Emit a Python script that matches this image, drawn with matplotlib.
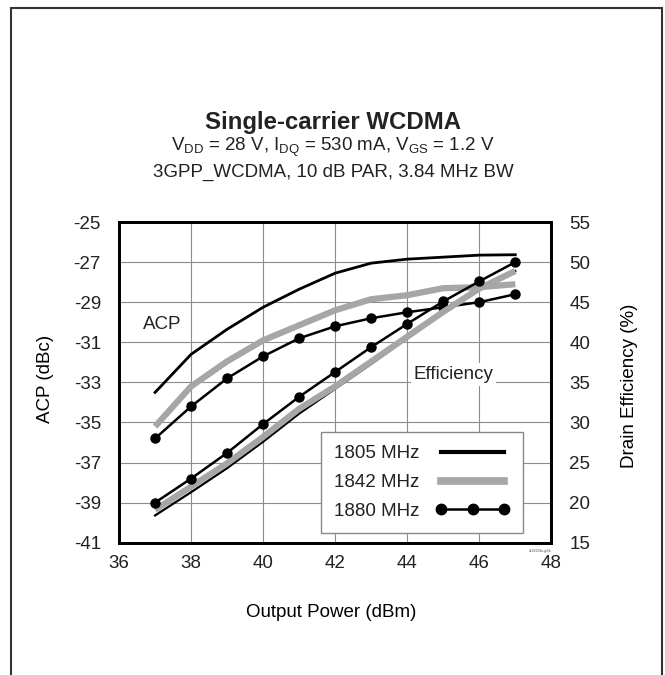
import numpy as np
import matplotlib
matplotlib.use("Agg")
import matplotlib.pyplot as plt
from matplotlib.patches import Rectangle

plt.rcParams['font.family'] = ['Liberation Sans', 'DejaVu Sans']
plt.rcParams['mathtext.default'] = 'regular'
plt.rcParams['axes.unicode_minus'] = False
plt.rcParams['text.color'] = '#222222'

# output power (dBm)
pout = [37, 38, 39, 40, 41, 42, 43, 44, 45, 46, 47]

# ACP (dBc)
acp_1805 = [-33.5, -31.6, -30.35, -29.25, -28.35, -27.55, -27.05, -26.85, -26.75, -26.65, -26.63]
acp_1842 = [-35.2, -33.2, -31.95, -30.9, -30.15, -29.4, -28.85, -28.65, -28.3, -28.25, -28.1]
acp_1880 = [-35.8, -34.2, -32.8, -31.7, -30.8, -30.2, -29.8, -29.5, -29.25, -29.0, -28.6]

# drain efficiency (%)
eff_1805 = [18.4, 21.3, 24.3, 27.6, 31.1, 34.2, 37.3, 40.5, 43.6, 46.6, 48.9]
eff_1842 = [19.1, 22.0, 24.9, 28.2, 31.7, 34.5, 37.6, 40.7, 43.8, 46.7, 48.9]
eff_1880 = [20.0, 23.0, 26.2, 29.8, 33.2, 36.3, 39.4, 42.3, 45.1, 47.6, 50.0]

fs = 13.5

fig = plt.figure(figsize=(6.65, 6.75), dpi=100)
ax = fig.add_axes([0.179, 0.196, 0.650, 0.475])
ax2 = ax.twinx()

# outer frame (open at bottom)
fig.patches.append(Rectangle((11 / 665, -0.05), 651 / 665, 1.05 - 7.5 / 675,
                             transform=fig.transFigure, fill=False,
                             edgecolor='#333333', lw=1.5))

gray = '#a6a6a6'
ax.plot(pout, acp_1842, color=gray, lw=4.5, solid_capstyle='butt', zorder=2)
ax.plot(pout, acp_1805, color='black', lw=2.0, zorder=3)
ax2.plot(pout, eff_1805, color='black', lw=1.6, zorder=2)
ax2.plot(pout, eff_1842, color=gray, lw=4.5, solid_capstyle='butt', zorder=3)
ax.plot(pout, acp_1880, color='black', lw=1.8, marker='o', ms=6.5, zorder=4)
ax2.plot(pout, eff_1880, color='black', lw=1.8, marker='o', ms=6.5, zorder=4)

ax.set_xlim(36, 48)
ax.set_ylim(-41, -25)
ax2.set_ylim(15, 55)
ax.set_xticks(np.arange(36, 49, 2))
ax.set_yticks(np.arange(-41, -24, 2))
ax2.set_yticks(np.arange(15, 56, 5))
ax.grid(True, color='#8c8c8c', lw=0.8)
ax.set_axisbelow(True)

for a in (ax, ax2):
    a.tick_params(length=0, labelsize=fs, colors='#222222')
    for s in a.spines.values():
        s.set_linewidth(2.0)
        s.set_color('black')
ax.tick_params(axis='y', pad=13)
ax.tick_params(axis='x', pad=9)
ax2.tick_params(axis='y', pad=13)

ax.set_xlabel('Output Power (dBm)', fontsize=fs)
ax.xaxis.set_label_coords(0.49, -0.19)
ax.set_ylabel('ACP (dBc)', fontsize=fs)
ax.yaxis.set_label_coords(-0.15, 0.51)
ax2.set_ylabel('Drain Efficiency (%)', fontsize=fs)
ax2.yaxis.set_label_coords(1.162, 0.49)

ax.text(37.19, -30.13, 'ACP', fontsize=fs, ha='center', va='center',
        bbox=dict(facecolor='white', edgecolor='none', pad=2), zorder=1.5)
ax.text(45.28, -32.62, 'Efficiency', fontsize=fs, ha='center', va='center',
        bbox=dict(facecolor='white', edgecolor='none', pad=2), zorder=1.5)

h1, = ax.plot([], [], color='black', lw=3)
h2, = ax.plot([], [], color=gray, lw=5.5)
h3, = ax.plot([], [], color='black', lw=1.8, marker='o', ms=7.5)
leg = ax.legend([h1, h2, h3], ['1805 MHz', '1842 MHz', '1880 MHz'],
                loc='lower right', bbox_to_anchor=(0.935, 0.03),
                markerfirst=False, numpoints=3, handlelength=4.0,
                fontsize=fs, fancybox=False, framealpha=1,
                edgecolor='#888888', borderpad=0.7, labelspacing=0.62,
                handletextpad=0.85, borderaxespad=0)
leg.get_frame().set_linewidth(1.0)
leg.set_zorder(5)

ax.text(1.0, -0.02, 's18202fa-gr5b', transform=ax.transAxes, fontsize=2.5,
        ha='right', va='top', color='#555555')

fig.text(0.501, 0.819, 'Single-carrier WCDMA', fontsize=17.3, fontweight='bold',
         ha='center', va='center')
fig.text(0.501, 0.782, 'V$_{DD}$ = 28 V, I$_{DQ}$ = 530 mA, V$_{GS}$ = 1.2 V',
         fontsize=fs, ha='center', va='center')
fig.text(0.501, 0.745, '3GPP_WCDMA, 10 dB PAR, 3.84 MHz BW',
         fontsize=fs, ha='center', va='center')

fig.savefig('out.png', dpi=100)
